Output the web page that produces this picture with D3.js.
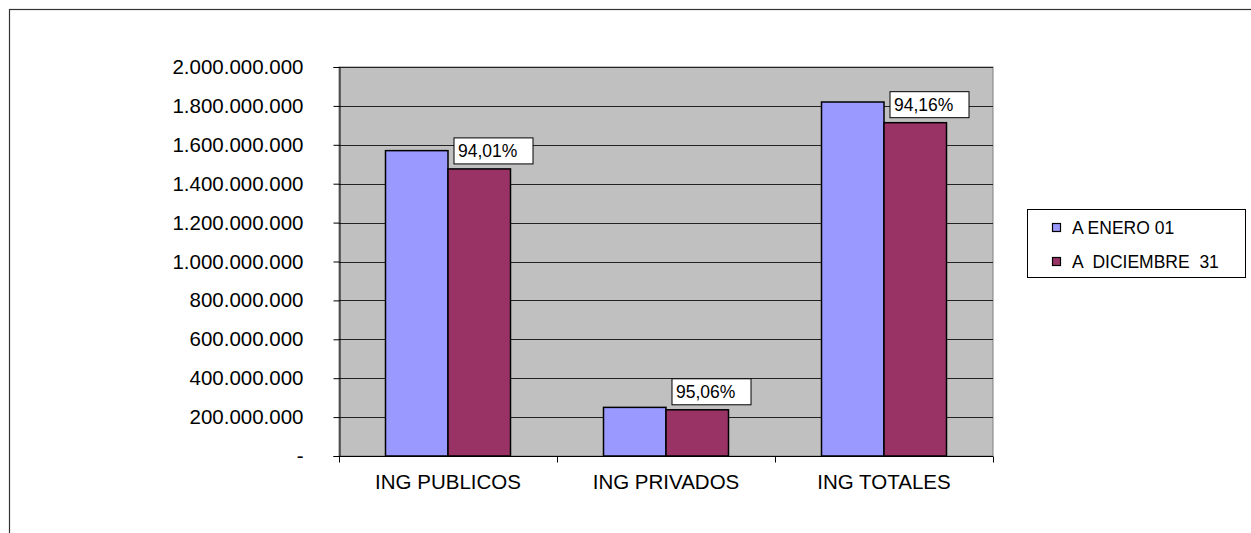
<!DOCTYPE html>
<html>
<head>
<meta charset="utf-8">
<script src="https://cdn.jsdelivr.net/npm/d3@7"></script>
<style>
  html, body { margin: 0; padding: 0; background: #fff; }
  svg { display: block; font-family: Arial, "Liberation Sans", sans-serif; }
</style>
</head>
<body>
<svg id="chart" width="1251" height="533"></svg>
<script>
const categories = ["ING PUBLICOS", "ING PRIVADOS", "ING TOTALES"];
const seriesNames = ["A ENERO 01", "A  DICIEMBRE  31"];
const eneroValues = [1570000000, 250000000, 1820000000];
const diciembreValues = [1476000000, 237600000, 1713700000];
const pctLabels = ["94,01%", "95,06%", "94,16%"];
const yTickValues = [0, 200000000, 400000000, 600000000, 800000000, 1000000000, 1200000000, 1400000000, 1600000000, 1800000000, 2000000000];
const colors = ["#9999FF", "#993366"];

const svg = d3.select("#chart");
const plot = { left: 339, right: 993, top: 67, bottom: 456 };

// outer chart border
svg.append("rect")
  .attr("x", 9.5).attr("y", 9.5).attr("width", 1300).attr("height", 600)
  .attr("fill", "#fff").attr("stroke", "#333").attr("stroke-width", 1.2);

const x0 = d3.scaleBand().domain(categories).range([plot.left, plot.right]).padding(0);
const x1 = d3.scaleBand().domain([0, 1]).range([0, x0.bandwidth()]).paddingInner(0).paddingOuter(0.744);
const y = d3.scaleLinear().domain([0, 2000000000]).range([plot.bottom, plot.top]);

// plot background
svg.append("rect")
  .attr("x", plot.left).attr("y", plot.top)
  .attr("width", plot.right - plot.left).attr("height", plot.bottom - plot.top)
  .attr("fill", "#C0C0C0").attr("stroke", "#808080").attr("stroke-width", 1);

// gridlines
svg.append("g").selectAll("line").data(yTickValues.filter(v => v > 0)).join("line")
  .attr("x1", plot.left).attr("x2", plot.right)
  .attr("y1", d => Math.round(y(d)) + 0.5).attr("y2", d => Math.round(y(d)) + 0.5)
  .attr("stroke", "#222").attr("stroke-width", 1);

const fmt = v => v === 0 ? "-" : d3.format(",")(v).replace(/,/g, ".");

// y axis
const yAxis = d3.axisLeft(y).tickValues(yTickValues).tickSize(6).tickPadding(30).tickFormat(fmt);
const yg = svg.append("g").attr("transform", `translate(${plot.left + 0.5},0)`).call(yAxis);
yg.select(".domain").attr("stroke", "#000");
yg.selectAll(".tick line").attr("stroke", "#000");
yg.selectAll(".tick text").attr("fill", "#000").style("font-size", "20.5px")
  .attr("font-family", "Arial, 'Liberation Sans', sans-serif");

// x axis
const xg = svg.append("g").attr("transform", `translate(0,${plot.bottom + 0.5})`);
xg.append("line").attr("x1", plot.left).attr("x2", plot.right).attr("stroke", "#000");
const boundaries = categories.map(c => x0(c)).concat([plot.right]);
xg.selectAll("line.tk").data(boundaries).join("line").attr("class", "tk")
  .attr("x1", d => Math.round(d) + 0.5).attr("x2", d => Math.round(d) + 0.5)
  .attr("y1", 0).attr("y2", 6).attr("stroke", "#000");
xg.selectAll("text").data(categories).join("text")
  .attr("x", d => x0(d) + x0.bandwidth() / 2).attr("y", 32)
  .attr("text-anchor", "middle").attr("fill", "#000").style("font-size", "20.5px")
  .text(d => d);

// bars
const rows = categories.map((c, i) => ({ cat: c, vals: [eneroValues[i], diciembreValues[i]], pct: pctLabels[i] }));
const groups = svg.append("g").selectAll("g").data(rows).join("g")
  .attr("transform", d => `translate(${x0(d.cat)},0)`);
groups.selectAll("rect").data(d => d.vals.map((v, j) => ({ v, j }))).join("rect")
  .attr("x", d => x1(d.j)).attr("width", x1.bandwidth())
  .attr("y", d => y(d.v)).attr("height", d => y(0) - y(d.v))
  .attr("fill", d => colors[d.j]).attr("stroke", "#000").attr("stroke-width", 1.5);

// percentage labels
const lbl = groups.append("g")
  .attr("transform", d => `translate(${x1(1) + 6},${y(d.vals[1]) - 31})`);
lbl.append("rect").attr("width", 79).attr("height", 26)
  .attr("fill", "#fff").attr("stroke", "#000").attr("stroke-width", 1);
lbl.append("text").attr("x", 4).attr("y", 19).attr("fill", "#000").style("font-size", "17.5px")
  .text(d => d.pct);

// legend
const leg = svg.append("g");
leg.append("rect").attr("x", 1027.5).attr("y", 209.5).attr("width", 218).attr("height", 68)
  .attr("fill", "#fff").attr("stroke", "#000").attr("stroke-width", 1);
const items = leg.selectAll("g.it").data(seriesNames).join("g").attr("class", "it")
  .attr("transform", (d, i) => `translate(1052,${228 + i * 34})`);
items.append("rect").attr("x", 0.5).attr("y", -4.5).attr("width", 8).attr("height", 8)
  .attr("fill", (d, i) => colors[i]).attr("stroke", "#000").attr("stroke-width", 1.2);
items.append("text").attr("x", 20).attr("y", 6).attr("fill", "#000").style("font-size", "17.5px")
  .attr("xml:space", "preserve").style("white-space", "pre").text(d => d);
</script>
</body>
</html>
